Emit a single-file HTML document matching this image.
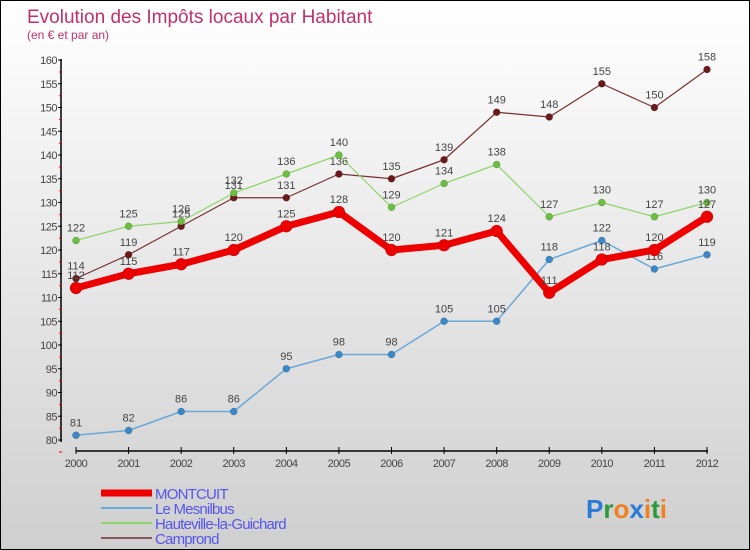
<!DOCTYPE html>
<html><head><meta charset="utf-8"><style>
body{margin:0;}
#wrap{width:748px;height:548px;border:1px solid #000;background:linear-gradient(#ffffff,#cfcfcf);position:relative;overflow:hidden;font-family:"Liberation Sans",sans-serif;}
</style></head><body>
<div id="wrap">
<svg id="chart" width="748" height="548"></svg>
</div>
<script>
const years=[2000,2001,2002,2003,2004,2005,2006,2007,2008,2009,2010,2011,2012];
const montcuit=[112,115,117,120,125,128,120,121,124,111,118,120,127];
const mesnilbus=[81,82,86,86,95,98,98,105,105,118,122,116,119];
const hauteville=[122,125,126,132,136,140,129,134,138,127,130,127,130];
const camprond=[114,119,125,131,131,136,135,139,149,148,155,150,158];
const yTicks=[80,85,90,95,100,105,110,115,120,125,130,135,140,145,150,155,160];
const NS="http://www.w3.org/2000/svg";
const svg=document.getElementById('chart');
function X(i){return 75+i*(706-75)/(years.length-1);}
function Y(v){return 439-(v-80)*4.75;}
function mk(t,a,p){const e=document.createElementNS(NS,t);for(const k in a)e.setAttribute(k,a[k]);(p||svg).appendChild(e);return e;}
function txt(x,y,s,a){const e=mk('text',Object.assign({x:x,y:y},a));e.textContent=s;return e;}
let t=txt(26,22,'Evolution des Impôts locaux par Habitant',{fill:'#c0306a','font-size':19});


t=txt(26,38,'(en € et par an)',{fill:'#c0306a','font-size':12});


let ax=mk('line',{x1:60,y1:58,x2:60,y2:441,stroke:'#000','stroke-width':1.5});


ax=mk('line',{x1:75,y1:450,x2:707,y2:450,stroke:'#000','stroke-width':1.5});


yTicks.forEach(v=>{
 mk('line',{x1:57,y1:Y(v),x2:61,y2:Y(v),stroke:'#000'});
 mk('line',{x1:58,y1:Y(v)+12,x2:61,y2:Y(v)+12,stroke:'#e00'});
 const l=txt(56,Y(v)+4,v,{'text-anchor':'end','font-size':11,fill:'#444','letter-spacing':'-0.5'});
 
 
});
years.forEach((yr,i)=>{
 mk('line',{x1:X(i),y1:446,x2:X(i),y2:453,stroke:'#000'});
 const l=txt(X(i),466,yr,{'text-anchor':'middle','font-size':11,fill:'#444','letter-spacing':'-0.5'});
 
 
});
function series(vals,color,w,r,dot,name,labels){
 const g=mk('g',{});
 
 
 mk('polyline',{points:vals.map((v,i)=>X(i)+','+Y(v)).join(' '),fill:'none',stroke:color,'stroke-width':w,'stroke-linejoin':'round'},g);
 vals.forEach((v,i)=>{
  const c=mk('circle',{cx:X(i),cy:Y(v),r:r,fill:dot,stroke:'rgba(0,0,0,0.3)','stroke-width':0.5},g);
  
  
  if(labels){const l=txt(X(i),Y(v)-9,v,{'text-anchor':'middle','font-size':11,fill:'#444'},g);
  
  }
 });
}
series(camprond,'#7a3030',1.2,3.5,'#6b1a1a','series-camprond',true);
series(hauteville,'#8ed46a',1.2,3.5,'#6cc040','series-hauteville',true);
series(mesnilbus,'#6aa8d8',1.5,3.5,'#3a88c8','series-le-mesnilbus',true);
series(montcuit,'#ee0000',7,6,'#ee0000','series-montcuit',true);
const legend=[['MONTCUIT','#ee0000',7],['Le Mesnilbus','#6aa8d8',2],['Hauteville-la-Guichard','#8ed46a',2],['Camprond','#8a5a5a',2]];
legend.forEach((d,i)=>{
 const y=492+i*15;
 const g=mk('g',{});
 
 
 mk('line',{x1:100,y1:y,x2:151,y2:y,stroke:d[1],'stroke-width':d[2]},g);
 txt(154,y+6,d[0],{'font-size':15,fill:'#5555ee','letter-spacing':'-0.8'},g);
});
const lg=mk('text',{x:585,y:517,'font-size':26,'font-weight':'bold'});


[['P','#2a7ad8'],['r','#2a9a3a'],['o','#f08020'],['x','#2a7ad8'],['i','#f08020'],['t','#2a9a3a'],['i','#f08020']].forEach(c=>{const s=mk('tspan',{fill:c[1]},lg);s.textContent=c[0];});
</script>
</body></html>
